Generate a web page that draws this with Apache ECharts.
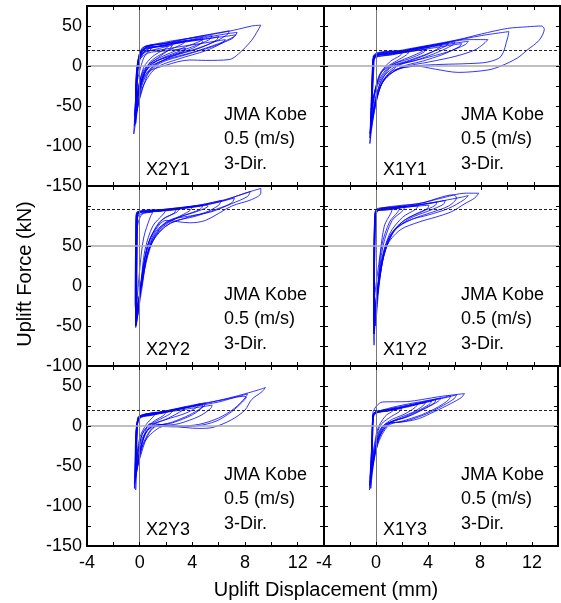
<!DOCTYPE html>
<html>
<head>
<meta charset="utf-8">
<script src="https://cdn.jsdelivr.net/npm/echarts@6/dist/echarts.min.js"></script>
<style>
html,body{margin:0;padding:0;background:#fff;}
#chart{width:561px;height:603px;}
</style>
</head>
<body>
<div id="chart"></div>
<script>
// ---------------- DATA ----------------
// [uplift displacement (mm), uplift force (kN)] traced loop by loop
const x2y1 = [
  [-0.2,-30],[-0.1,0],[0.2,15],[1.5,22],[2.5,26],[2.2,20],[1.2,8],[0.3,-5],[-0.2,-35],
  [-0.3,-55],[-0.2,-10],[0.1,14],[0.8,22],[2.5,27],[4.5,33],[4.8,31],[4.0,22],[2.5,14],[1,3],[0.2,-15],[-0.3,-50],
  [-0.25,-30],[-0.05,8],[0.4,18],[1.5,20],[3,24],[5,29],[6.5,33],[6.3,29],[5,19],[3,9],[1.2,-3],[0.2,-28],[-0.4,-75],
  [-0.35,-65],[-0.15,0],[0.3,20],[1.5,25],[3.5,30],[5.5,35],[6.0,37],[5.8,32],[4.5,22],[2.5,12],[1,0],[0.2,-20],[-0.35,-70],
  [-0.3,-45],[-0.1,5],[0.6,16],[2,19],[3.5,22],[3.3,18],[2,9],[0.8,-5],[0.1,-35],[-0.35,-68],
  [-0.2,-10],[0.2,22],[2,28],[4.5,33],[6.5,37],[7.3,39],[7,34],[5.5,24],[3.5,14],[1.5,3],[0.3,-18],[-0.4,-80],
  [-0.45,-85],[-0.3,-40],[-0.1,10],[0.3,24],[1.5,27],[3.8,35],[6,41],[7.5,46],[8.5,50],[9.2,51],[9,45],[8.5,32],[7.5,15],[6.8,8],[5,7],[3.8,7.5],[2,1],[0.5,-9],[0,-30],[-0.3,-60],
  [-0.3,-25],[0,15],[0.6,24],[2.5,30],[4.5,37],[6.8,44],[6.7,40],[5.8,31],[4.2,21],[2.5,13],[1,4],[0.3,-12],[-0.3,-50],
  [-0.2,-5],[0.5,20],[2,26],[4.5,34],[6.5,40],[7.4,42],[7.2,37],[6,28],[4,17],[2,8],[0.5,-5],[-0.3,-45],
  [-0.2,0],[0.3,22],[2,30],[4,35],[5.5,38],[5.3,33],[4,24],[2,12],[0.6,-2],[-0.2,-40],
  [-0.1,5],[0.5,24],[2,28],[3.5,32],[3.3,28],[2,18],[0.8,5],[0,-20],[-0.3,-60],
  [-0.2,-10],[0.2,20],[1.5,25],[3,30],[4.8,36],[4.7,32],[3.5,24],[2,14],[0.7,2],[0,-25],[-0.3,-72],
  [-0.2,-15],[0.1,18],[1,23],[2.2,25],[2,22],[1,12],[0.3,-2],[-0.1,-30],[-0.4,-62],
  [-0.2,-20],[0,10],[0.5,23],[1,25],[0.8,20],[0.3,10],[-0.2,-20]
];
const x1y1 = [
  [-0.4,-50],[-0.3,0],[-0.2,10],[1,14],[2.5,18],[2.3,14],[1.5,6],[0.5,-5],[-0.1,-30],[-0.4,-60],
  [-0.3,-20],[-0.2,11],[1.5,16],[3.5,22],[5,27],[4.8,23],[3.8,14],[2.5,6],[1,-3],[0,-35],[-0.45,-80],
  [-0.35,-35],[-0.2,8],[1.2,14],[3,19],[4.5,23],[6.5,28],[6.3,24],[5,14],[3.5,6],[1.8,-2],[0.4,-22],[-0.5,-90],
  [-0.3,-10],[-0.15,12],[2,18],[4,24],[6,30],[5.8,26],[4.5,16],[3,7],[1.5,-1],[0.2,-30],[-0.5,-97],
  [-0.3,-25],[-0.15,10],[2,17],[3.8,21],[3.6,17],[2.5,9],[1,0],[0,-25],[-0.4,-68],
  [-0.3,-40],[-0.2,12],[2,19],[5,28],[7,33],[8.5,33],[8.2,28],[7.5,20],[6,12],[4,5],[2,-2],[0.5,-18],[-0.4,-75],
  [-0.3,-20],[-0.2,12],[2.5,20],[5.5,30],[8,38],[10.1,43],[10,35],[9.5,12],[8.5,5],[7,3],[5,2],[3,0],[1,-8],[0,-40],[-0.5,-85],
  [-0.35,-50],[-0.25,12],[2,20],[4,26],[6.25,33],[8,40],[10,47],[11.5,49],[12.6,50],[12.8,46],[12.4,32],[11.5,20],[10.75,10],[9.5,0],[8.5,-5],[6.25,-8],[4.5,-4],[3,0],[1.5,-5],[0.3,-25],[-0.4,-70],
  [-0.3,-15],[-0.2,12],[2.5,19],[5,26],[7,31],[6.8,27],[5.5,18],[3.5,9],[1.5,0],[0.3,-20],[-0.45,-82],
  [-0.3,-10],[-0.2,11],[1.5,17],[3.5,24],[5.5,29],[5.3,25],[4,16],[2.5,7],[1,-2],[0,-28],[-0.45,-72],
  [-0.3,-30],[-0.2,10],[1,15],[3,22],[4,25],[3.8,21],[2.8,13],[1.5,4],[0.3,-10],[-0.4,-55],
  [-0.2,-5],[-0.1,12],[1,15],[2,17],[1.8,13],[1,5],[0.2,-12],[-0.35,-50]
];
const x2y2 = [
  [-0.3,-45],[-0.25,40],[-0.2,88],[0.3,93],[1.2,93],[2,95],[1.8,90],[1,75],[0.4,45],[0.1,5],[-0.2,-40],
  [-0.35,-20],[-0.3,60],[-0.25,91],[1,93],[2.5,96],[5,101],[5.2,100],[4.5,94],[3,86],[1.8,76],[0.8,52],[0.2,5],[-0.3,-45],
  [-0.3,-50],[-0.25,50],[-0.2,90],[0.5,93],[2,95],[3.5,98],[4,99],[3.8,94],[2.8,85],[1.5,70],[0.6,40],[0.2,0],[-0.3,-52],
  [-0.2,60],[-0.15,92],[0.8,94],[2.5,97],[4.5,101],[6.2,107],[6.0,101],[5,92],[3.5,85],[2,75],[0.8,50],[0.2,10],[-0.25,-45],
  [-0.3,0],[-0.28,75],[-0.2,92],[1.5,94],[2.8,96],[2.6,91],[1.5,80],[0.6,50],[0.1,0],[-0.25,-48],
  [-0.3,30],[-0.2,93],[1.5,94],[3.5,97],[6,105],[8,116],[9.2,122],[9.2,116],[8.5,108],[7,100],[5,82],[3.8,79],[2,82],[1,65],[0.5,45],[0.1,0],[-0.3,-50],
  [-0.3,20],[-0.25,88],[0.5,93],[3,97],[5.5,103],[7.2,110],[7,104],[6,97],[4.2,87],[2.5,80],[1.2,62],[0.5,30],[-0.2,-35],
  [-0.2,70],[0,93],[2,96],[4.5,101],[6.5,108],[8.4,118],[8.2,112],[7,103],[5.5,93],[4,88],[2.5,83],[1.2,68],[0.4,35],[0,-10],[-0.3,-48],
  [-0.2,50],[-0.1,92],[1,94],[3,97],[4.8,100],[4.6,96],[3.5,89],[2,80],[1,60],[0.3,20],[-0.2,-30],
  [-0.25,10],[-0.2,85],[0.5,92],[2,94],[3,96],[2.8,92],[1.8,84],[0.8,60],[0.3,25],[-0.1,-20],
  [-0.3,-35],[-0.2,70],[0.2,90],[1,92],[0.8,86],[0.3,60],[0,20],[-0.3,-40]
];
const x1y2 = [
  [-0.2,-40],[-0.15,60],[-0.05,93],[0.8,95],[1.8,97],[1.6,92],[1,80],[0.4,50],[0.1,0],[-0.2,-50],
  [-0.2,-60],[-0.1,70],[0,94],[1.5,97],[3,100],[3.2,101],[3,96],[2,86],[1,65],[0.3,25],[-0.15,-50],
  [-0.2,-30],[-0.12,85],[0.3,96],[2.5,100],[4.6,105],[4.5,101],[3.5,93],[2.2,83],[1,62],[0.3,20],[-0.18,-60],
  [-0.2,-20],[-0.1,90],[0.2,96],[2,99],[4,103],[5.25,107],[5.1,102],[4,94],[2.5,84],[1.2,65],[0.4,25],[-0.2,-65],
  [-0.18,-74],[-0.15,20],[-0.05,92],[0.3,97],[2,101],[3.25,103],[5,110],[6.75,116],[7.8,116],[7.5,110],[6.75,103],[5.75,93],[4.5,86],[3.25,80],[1.8,70],[0.75,49],[0.25,7.5],[-0.1,-50],
  [-0.2,-10],[-0.1,92],[1.2,97],[3.5,102],[6.5,111],[7,113],[6.7,108],[5.5,97],[4,89],[2.5,82],[1.3,68],[0.5,35],[-0.15,-40],
  [-0.15,0],[-0.05,95],[1.5,99],[3.5,104],[5.9,114],[6.1,110],[5.5,100],[4.2,92],[2.8,84],[1.5,72],[0.6,40],[0.1,-10],[-0.2,-55],
  [-0.15,30],[0,93],[1,96],[2.5,99],[4,101],[3.9,97],[3,90],[1.8,78],[0.8,55],[0.2,10],[-0.2,-45],
  [-0.15,40],[-0.05,94],[0.8,97],[2.2,100],[2,94],[1.2,82],[0.5,50],[0.1,0],[-0.2,-35],
  [-0.2,10],[-0.1,93],[0.5,95],[1.2,96],[1.1,91],[0.6,75],[0.2,30],[-0.2,-20]
];
const x2y3 = [
  [-0.3,-40],[-0.2,0],[-0.1,10],[0.5,13],[1.5,16],[2.5,19],[2.3,15],[1.5,8],[0.5,-2],[0,-20],[-0.3,-50],
  [-0.25,-5],[0,11],[1,15],[2.5,20],[4,25],[4.6,28],[4.4,24],[3.5,16],[2,8],[0.8,0],[0.1,-25],[-0.35,-65],
  [-0.35,-60],[-0.2,5],[0.3,12],[2,17],[3.5,21],[5.5,26],[5.4,22],[4.5,12],[3,3],[1.5,-2],[0.3,-22],[-0.4,-72],
  [-0.2,-10],[0,12],[1.5,17],[3,22],[4.8,27],[4.7,23],[3.8,14],[2.5,5],[1,-3],[0.2,-30],[-0.35,-75],
  [-0.3,-80],[-0.2,-20],[-0.15,11],[1,14],[3,21],[4.5,27],[6,32],[7.5,38],[9,45],[9.55,48],[9.3,43],[8.5,33],[8,20],[7,8],[5.5,-2],[4.5,-3],[3.5,-2],[2,1],[0.8,3],[0.3,-15],[-0.3,-60],
  [-0.3,-20],[0,11],[2,18],[4,24],[6,30],[7.8,37],[8.1,36],[7.8,30],[7,18],[5.8,6],[4.3,0],[2.5,-1],[1,0],[0.2,-20],[-0.35,-65],
  [-0.2,-5],[0,12],[1.5,17],[3.5,23],[5.5,30],[7,35],[8.2,40],[8.0,35],[7.2,22],[6,10],[4.5,2],[3,0],[1.5,2],[0.4,-10],[-0.3,-55],
  [-0.2,0],[0.2,13],[2,19],[4,26],[5,29],[4.9,25],[4,14],[2.5,4],[1,-2],[0.1,-30],[-0.4,-78],
  [-0.3,-30],[-0.1,10],[1,15],[2.5,20],[3.5,24],[3.3,20],[2.2,10],[1,1],[0.2,-15],[-0.3,-45],
  [-0.3,-35],[-0.1,9],[0.8,13],[2,17],[1.8,13],[1,5],[0.2,-10],[-0.3,-55],
  [-0.2,-5],[0,11],[0.8,14],[1.2,15],[1,11],[0.5,2],[0,-15],[-0.3,-50]
];
const x1y3 = [
  [-0.3,-40],[-0.2,10],[0,16],[1,19],[2,22],[1.8,18],[1,10],[0.3,0],[-0.1,-25],[-0.4,-60],
  [-0.3,-20],[-0.2,14],[1,19],[2.5,25],[3.8,29],[3.6,25],[2.8,17],[1.5,8],[0.4,-3],[-0.1,-35],[-0.45,-70],
  [-0.35,-50],[-0.2,13],[1.2,20],[3,27],[4.6,33],[4.5,29],[3.6,21],[2.3,11],[1,3],[0.1,-20],[-0.45,-72],
  [-0.25,-10],[-0.2,15],[0.5,20],[2,26],[4,32],[5,35],[4.8,31],[3.8,22],[2.5,12],[1,3],[0.1,-20],[-0.4,-78],
  [-0.3,-30],[-0.25,15.5],[0.5,30],[2.4,30.5],[3.5,33],[5,37],[6.8,40.5],[6.6,36],[5.75,28],[4.5,18],[3.25,9],[2,5],[0.75,3],[0,-26],[-0.5,-75],
  [-0.3,-15],[-0.2,15],[1.5,22],[3.5,29],[5.5,36],[6.2,39],[6,34],[5.2,26],[4,16],[2.5,7],[1,1],[0.1,-25],[-0.5,-80],
  [-0.3,-20],[-0.2,15],[1,21],[3,28],[5,35],[5.75,38],[5.6,33],[4.8,24],[3.5,14],[2,6],[0.7,0],[0,-30],[-0.45,-65],
  [-0.3,-30],[-0.2,14],[0.8,19],[2.5,24],[3.2,27],[3,23],[2.2,15],[1,6],[0.2,-8],[-0.4,-65],
  [-0.3,-10],[-0.2,14],[1,20],[2.8,26],[4.3,31],[4.1,27],[3.2,19],[2,10],[0.8,2],[0.1,-18],[-0.35,-55],
  [-0.25,0],[-0.1,16],[0.8,20],[1.5,23],[1.3,19],[0.7,12],[0.1,-5],[-0.3,-45]
];

const panelNames = ['X2Y1','X1Y1','X2Y2','X1Y2','X2Y3','X1Y3'];
const panelData = [x2y1, x1y1, x2y2, x1y2, x2y3, x1y3];
const xTickLabels = [-4, 0, 4, 8, 12];
const yRangeRow = [[-150, 75], [-100, 125], [-150, 75]];
const yTickLabelsRow = [[-150,-100,-50,0,50], [-100,-50,0,50], [-150,-100,-50,0,50]];
const zeroLineRow = [0, 50, 0];
const dashLineRow = [20, 96, 20];
const annotation = 'JMA Kobe\n0.5 (m/s)\n3-Dir.';
const xTitle = 'Uplift Displacement (mm)';
const yTitle = 'Uplift Force (kN)';

// ---------------- LAYOUT ----------------
const FONT = '"Liberation Sans", Arial, Helvetica, sans-serif';
const X_MIN = -4, X_MAX = 14, X_STEP = 2, Y_STEP = 25, TICK_PX = 4;
const colLeft = [87, 324];
const colWidth = [237, 236];
const rowTop = [6, 186, 366];
const rowHeight = 180;

const grid = [], xAxis = [], yAxis = [], series = [], graphic = [];

for (let i = 0; i < 6; i++) {
  const row = Math.floor(i / 2), col = i % 2;
  const [yMin, yMax] = yRangeRow[row];
  grid.push({left: colLeft[col], top: rowTop[row], width: colWidth[col], height: rowHeight,
    show: true, borderColor: '#000', borderWidth: 2, backgroundColor: 'transparent'});
  xAxis.push({gridIndex: i, type: 'value', min: X_MIN, max: X_MAX, interval: X_STEP, position: 'bottom',
    axisLine: {show: false, onZero: false}, axisTick: {show: false}, splitLine: {show: false},
    axisLabel: {show: row === 2, margin: 8, color: '#000', fontSize: 18, fontFamily: FONT,
      formatter: v => xTickLabels.includes(v) ? String(v) : ''}});
  yAxis.push({gridIndex: i, type: 'value', min: yMin, max: yMax, interval: Y_STEP,
    position: 'left',
    axisLine: {show: false, onZero: false}, axisTick: {show: false}, splitLine: {show: false},
    axisLabel: {show: col === 0, margin: 5, color: '#000', fontSize: 18, fontFamily: FONT,
      formatter: v => yTickLabelsRow[row].includes(v) ? String(v) : ''}});

  // inward frame ticks as short marker segments in axis units (4 px long)
  const dy = TICK_PX * (yMax - yMin) / rowHeight;
  const dx = TICK_PX * (X_MAX - X_MIN) / colWidth[col];
  const tickSegs = [];
  for (let v = X_MIN + X_STEP; v < X_MAX; v += X_STEP) {
    tickSegs.push([{coord: [v, yMin]}, {coord: [v, yMin + dy]}]);
    tickSegs.push([{coord: [v, yMax]}, {coord: [v, yMax - dy]}]);
  }
  for (let v = yMin + Y_STEP; v < yMax; v += Y_STEP) {
    tickSegs.push([{coord: [X_MIN, v]}, {coord: [X_MIN + dx, v]}]);
    tickSegs.push([{coord: [X_MAX, v]}, {coord: [X_MAX - dx, v]}]);
  }

  series.push({
    type: 'line', xAxisIndex: i, yAxisIndex: i, data: panelData[i],
    showSymbol: false, symbol: 'none', smooth: 0.3, animation: false, clip: true,
    lineStyle: {color: '#0000ff', width: 0.8}, z: 3,
    markLine: {silent: true, symbol: ['none', 'none'], label: {show: false}, animation: false,
      z: 5, lineStyle: {color: '#000', width: 1, type: 'solid'},
      emphasis: {disabled: true},
      data: [
        {xAxis: 0, lineStyle: {color: '#777', width: 1, type: 'solid'}},
        {yAxis: zeroLineRow[row], lineStyle: {color: '#aaa', width: 1.5, type: 'solid'}},
        {yAxis: dashLineRow[row], lineStyle: {color: '#222', width: 1, type: [3, 2]}}
      ].concat(tickSegs)}
  });

  graphic.push({type: 'text', left: colLeft[col] + 137, top: rowTop[row] + 96.5, silent: true,
    style: {text: annotation, font: '18px ' + FONT, lineHeight: 24.5, fill: '#000'}});
  graphic.push({type: 'text', left: colLeft[col] + 59, top: rowTop[row] + 152, silent: true,
    style: {text: panelNames[i], font: '18px ' + FONT, lineHeight: 24.5, fill: '#000'}});
}

graphic.push({type: 'text', x: 326, y: 590, silent: true,
  style: {text: xTitle, font: '20px ' + FONT, fill: '#000', align: 'center', verticalAlign: 'middle'}});
graphic.push({type: 'text', x: 25, y: 274, rotation: Math.PI / 2, silent: true,
  style: {text: yTitle, font: '20px ' + FONT, fill: '#000', align: 'center', verticalAlign: 'middle'}});

const chart = echarts.init(document.getElementById('chart'), null, {renderer: 'canvas'});
chart.setOption({animation: false, backgroundColor: '#fff', grid, xAxis, yAxis, series,
  graphic: {elements: graphic}});
</script>
</body>
</html>
